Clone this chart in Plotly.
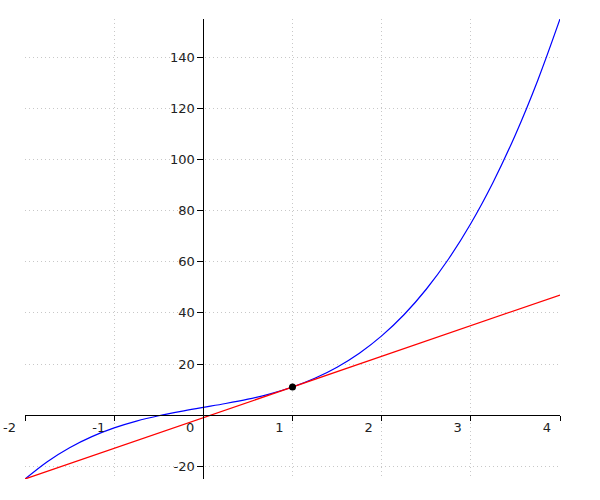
import plotly.graph_objects as go

# curve values
curve_x = [-2, -1.75, -1.5, -1.25, -1, -0.75, -0.5, -0.25, 0, 0.25, 0.5, 0.75, 1,
           1.25, 1.5, 1.75, 2, 2.25, 2.5, 2.75, 3, 3.25, 3.5, 3.75, 4]
curve_y = [-25, -18.22, -12.75, -8.41, -5, -2.34, -0.25, 1.47, 3, 4.53, 6.25, 8.34, 11,
           14.41, 18.75, 24.22, 31, 39.28, 49.25, 61.09, 75, 91.16, 109.75, 130.97, 155]

# tangent line end points
tangent_x = [-2, 4]
tangent_y = [-25, 47]

# point of tangency
point_x = [1]
point_y = [11]

x_ticks = [-2, -1, 0, 1, 2, 3, 4]
y_ticks = [-20, 20, 40, 60, 80, 100, 120, 140]

fig = go.Figure()
fig.add_trace(go.Scatter(
    x=curve_x, y=curve_y, mode="lines",
    line=dict(color="#0000ff", width=1.2, shape="spline"),
))
fig.add_trace(go.Scatter(
    x=tangent_x, y=tangent_y, mode="lines",
    line=dict(color="#ff0000", width=1.2),
))
fig.add_trace(go.Scatter(
    x=point_x, y=point_y, mode="markers",
    marker=dict(color="black", size=7),
))

axis_font = dict(family="DejaVu Sans", size=13, color="#222")

fig.update_layout(
    width=600, height=500,
    margin=dict(l=25, r=40, t=19, b=21),
    plot_bgcolor="white",
    paper_bgcolor="white",
    showlegend=False,
    xaxis=dict(
        range=[-2, 4], tickvals=x_ticks, ticktext=[str(v) for v in x_ticks],
        anchor="free", position=25 / 180, automargin=False,
        showline=True, linecolor="black", linewidth=1,
        ticks="outside", ticklen=5, tickcolor="black",
        ticklabelposition="outside left", ticklabelshift=-8,
        ticklabeloverflow="allow",
        showgrid=True, gridcolor="#c8c8c8", griddash="1px,3px", gridwidth=1,
        zeroline=False, tickfont=axis_font,
    ),
    yaxis=dict(
        range=[-25, 155], tickvals=y_ticks, ticktext=[str(v) for v in y_ticks],
        anchor="free", position=2 / 6, automargin=False,
        showline=True, linecolor="black", linewidth=1,
        ticks="outside", ticklen=6, tickcolor="black",
        showgrid=True, gridcolor="#c8c8c8", griddash="1px,3px", gridwidth=1,
        zeroline=False, tickfont=axis_font,
    ),
)

# drop the default 8px body margin so the figure sits at the window corner
fig.write_html(
    "out.html",
    config={"displayModeBar": False},
    post_script="document.body.style.margin='0';",
)
